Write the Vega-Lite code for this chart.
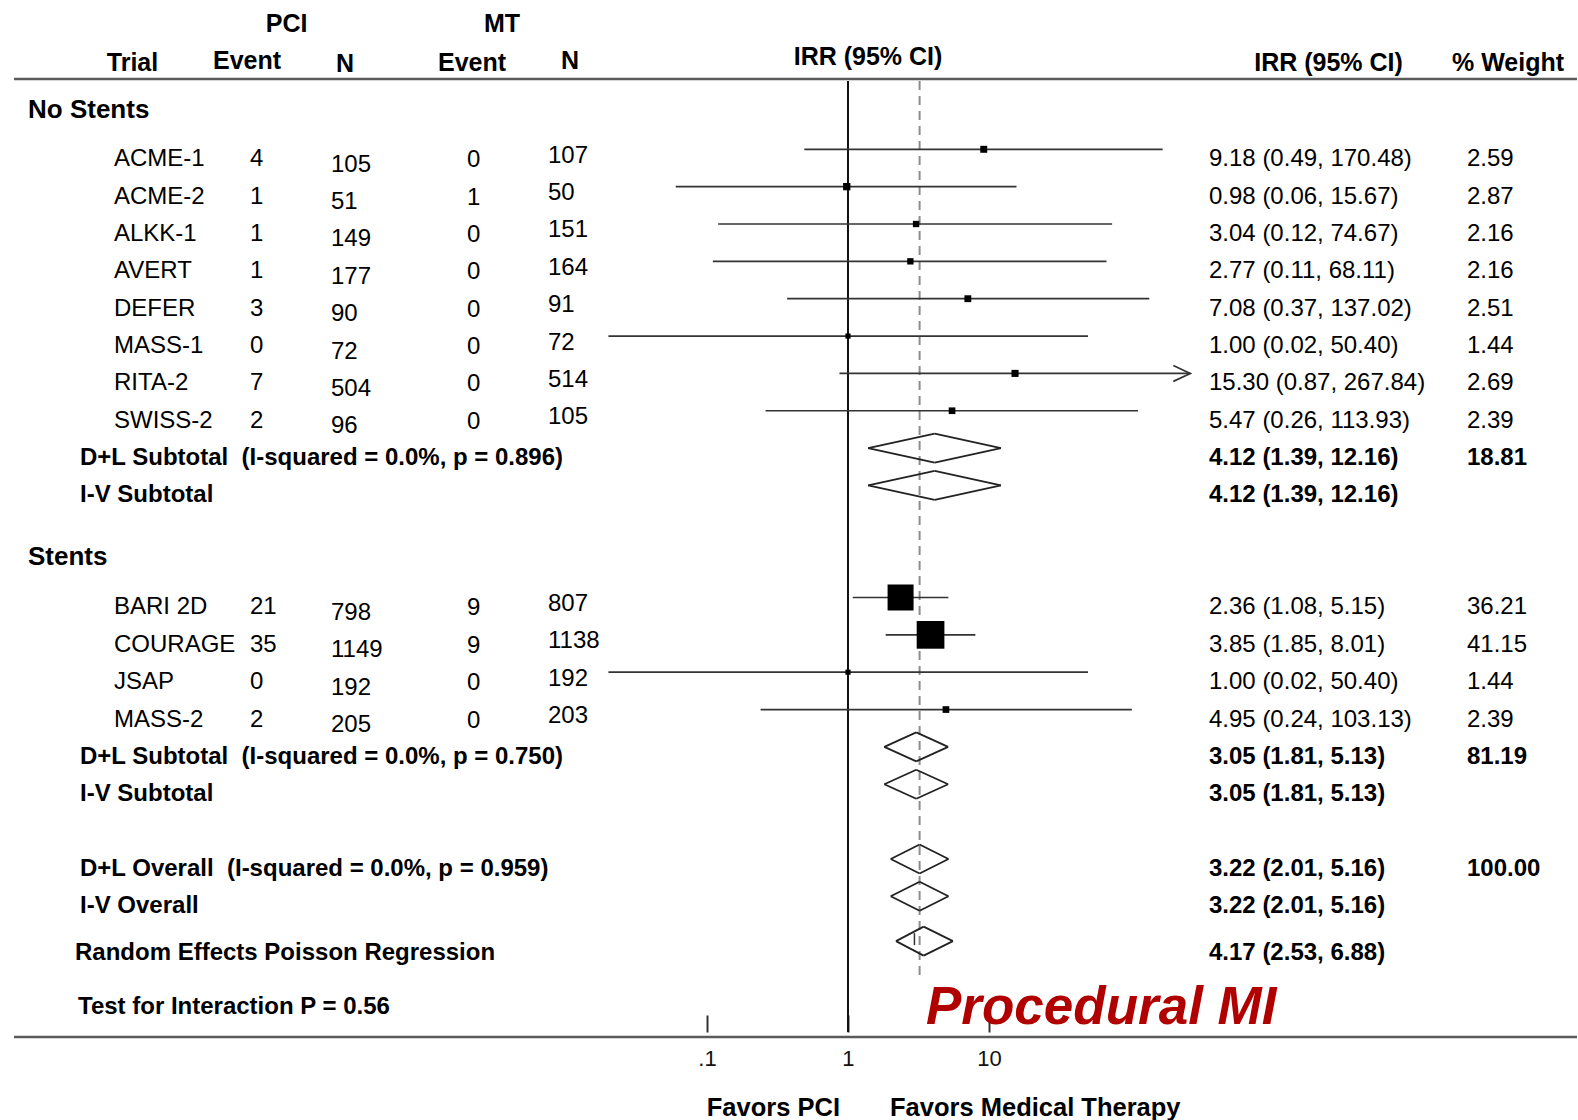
{
  "$schema": "https://vega.github.io/schema/vega-lite/v6.json",
  "padding": {"left": 12, "top": 0, "right": 0, "bottom": 0},
  "autosize": {"type": "pad"},
  "bounds": "flush",
  "spacing": 0,
  "background": "white",
  "config": {
    "view": {"stroke": null},
    "text": {"font": "Liberation Sans", "color": "black", "fontSize": 24},
    "axis": {"labelFont": "Liberation Sans"}
  },
  "datasets": {
    "frame": [{"part": "frame"}],
    "headers": [
      {"col": "pci", "text": "PCI", "row": -2.366},
      {"col": "mt", "text": "MT", "row": -2.366},
      {"col": "trial", "text": "Trial", "row": -1.308},
      {"col": "pe", "text": "Event", "row": -1.353},
      {"col": "pn", "text": "N", "row": -1.287},
      {"col": "me", "text": "Event", "row": -1.308},
      {"col": "mn", "text": "N", "row": -1.375},
      {"col": "forest", "text": "IRR (95% CI)", "row": -1.463},
      {"col": "irr", "text": "IRR (95% CI)", "row": -1.308},
      {"col": "wt", "text": "% Weight", "row": -1.31},
      {"col": "favpci", "text": "Favors PCI", "row": 26.68},
      {"col": "favmt", "text": "Favors Medical Therapy", "row": 26.68},
      {"col": "title", "text": "Procedural MI", "row": 24.427}
    ],
    "rows": [
      {"kind": "section", "row": -0.328, "label": "No Stents"},
      {"kind": "trial", "row": 1, "label": "ACME-1", "pe": 4, "pn": 105, "me": 0, "mn": 107, "est": 9.18, "lo": 0.49, "hi": 170.48, "irr": "9.18 (0.49, 170.48)", "wt": 2.59},
      {"kind": "trial", "row": 2, "label": "ACME-2", "pe": 1, "pn": 51, "me": 1, "mn": 50, "est": 0.98, "lo": 0.06, "hi": 15.67, "irr": "0.98 (0.06, 15.67)", "wt": 2.87},
      {"kind": "trial", "row": 3, "label": "ALKK-1", "pe": 1, "pn": 149, "me": 0, "mn": 151, "est": 3.04, "lo": 0.12, "hi": 74.67, "irr": "3.04 (0.12, 74.67)", "wt": 2.16},
      {"kind": "trial", "row": 4, "label": "AVERT", "pe": 1, "pn": 177, "me": 0, "mn": 164, "est": 2.77, "lo": 0.11, "hi": 68.11, "irr": "2.77 (0.11, 68.11)", "wt": 2.16},
      {"kind": "trial", "row": 5, "label": "DEFER", "pe": 3, "pn": 90, "me": 0, "mn": 91, "est": 7.08, "lo": 0.37, "hi": 137.02, "irr": "7.08 (0.37, 137.02)", "wt": 2.51},
      {"kind": "trial", "row": 6, "label": "MASS-1", "pe": 0, "pn": 72, "me": 0, "mn": 72, "est": 1.0, "lo": 0.02, "hi": 50.4, "irr": "1.00 (0.02, 50.40)", "wt": 1.44},
      {"kind": "trial", "row": 7, "label": "RITA-2", "pe": 7, "pn": 504, "me": 0, "mn": 514, "est": 15.3, "lo": 0.87, "hi": 267.84, "irr": "15.30 (0.87, 267.84)", "wt": 2.69},
      {"kind": "trial", "row": 8, "label": "SWISS-2", "pe": 2, "pn": 96, "me": 0, "mn": 105, "est": 5.47, "lo": 0.26, "hi": 113.93, "irr": "5.47 (0.26, 113.93)", "wt": 2.39},
      {"kind": "summary", "row": 9, "label": "D+L Subtotal\u00a0\u00a0(I-squared = 0.0%, p = 0.896)", "est": 4.12, "lo": 1.39, "hi": 12.16, "irr": "4.12 (1.39, 12.16)", "wt": 18.81},
      {"kind": "summary", "row": 10, "label": "I-V Subtotal", "est": 4.12, "lo": 1.39, "hi": 12.16, "irr": "4.12 (1.39, 12.16)"},
      {"kind": "section", "row": 11.64, "label": "Stents"},
      {"kind": "trial", "row": 13, "label": "BARI 2D", "pe": 21, "pn": 798, "me": 9, "mn": 807, "est": 2.36, "lo": 1.08, "hi": 5.15, "irr": "2.36 (1.08, 5.15)", "wt": 36.21},
      {"kind": "trial", "row": 14, "label": "COURAGE", "pe": 35, "pn": 1149, "me": 9, "mn": 1138, "est": 3.85, "lo": 1.85, "hi": 8.01, "irr": "3.85 (1.85, 8.01)", "wt": 41.15},
      {"kind": "trial", "row": 15, "label": "JSAP", "pe": 0, "pn": 192, "me": 0, "mn": 192, "est": 1.0, "lo": 0.02, "hi": 50.4, "irr": "1.00 (0.02, 50.40)", "wt": 1.44},
      {"kind": "trial", "row": 16, "label": "MASS-2", "pe": 2, "pn": 205, "me": 0, "mn": 203, "est": 4.95, "lo": 0.24, "hi": 103.13, "irr": "4.95 (0.24, 103.13)", "wt": 2.39},
      {"kind": "summary", "row": 17, "label": "D+L Subtotal\u00a0\u00a0(I-squared = 0.0%, p = 0.750)", "est": 3.05, "lo": 1.81, "hi": 5.13, "irr": "3.05 (1.81, 5.13)", "wt": 81.19},
      {"kind": "summary", "row": 18, "label": "I-V Subtotal", "est": 3.05, "lo": 1.81, "hi": 5.13, "irr": "3.05 (1.81, 5.13)"},
      {"kind": "summary", "row": 20, "label": "D+L Overall\u00a0\u00a0(I-squared = 0.0%, p = 0.959)", "est": 3.22, "lo": 2.01, "hi": 5.16, "irr": "3.22 (2.01, 5.16)", "wt": 100},
      {"kind": "summary", "row": 21, "label": "I-V Overall", "est": 3.22, "lo": 2.01, "hi": 5.16, "irr": "3.22 (2.01, 5.16)"},
      {"kind": "random", "row": 22.2, "label": "Random Effects Poisson Regression", "est": 3.44, "lo": 2.19, "hi": 5.55, "tick": 2.96, "irr": "4.17 (2.53, 6.88)"},
      {"kind": "note", "row": 23.7, "label": "Test for Interaction P = 0.56"}
    ]
  },
  "hconcat": [
    {
      "width": 14, "height": 1120,
      "layer": [
        {"data": {"name": "frame"}, "mark": {"type": "rule", "color": "#5a5a5a", "strokeWidth": 2.5}, "encoding": {"y": {"datum": -0.882, "type": "quantitative", "scale": {"domain": [-2.99732, 26.9893], "reverse": true, "nice": false, "zero": false}, "axis": null}}},
        {"data": {"name": "frame"}, "mark": {"type": "rule", "color": "#5a5a5a", "strokeWidth": 2.5}, "encoding": {"y": {"datum": 24.767, "type": "quantitative", "scale": {"domain": [-2.99732, 26.9893], "reverse": true, "nice": false, "zero": false}, "axis": null}}}
      ]
    },
    {
      "width": 52, "height": 1120,
      "layer": [
        {"data": {"name": "frame"}, "mark": {"type": "rule", "color": "#5a5a5a", "strokeWidth": 2.5}, "encoding": {"y": {"datum": -0.882, "type": "quantitative", "scale": {"domain": [-2.99732, 26.9893], "reverse": true, "nice": false, "zero": false}, "axis": null}}},
        {"data": {"name": "frame"}, "mark": {"type": "rule", "color": "#5a5a5a", "strokeWidth": 2.5}, "encoding": {"y": {"datum": 24.767, "type": "quantitative", "scale": {"domain": [-2.99732, 26.9893], "reverse": true, "nice": false, "zero": false}, "axis": null}}},
        {"data": {"name": "rows"}, "transform": [{"filter": "datum.kind == 'section'"}], "mark": {"type": "text", "align": "left", "baseline": "middle", "dy": 10, "fontSize": 26, "fontWeight": "bold"}, "encoding": {"x": {"value": 0}, "y": {"field": "row", "type": "quantitative", "scale": {"domain": [-2.99732, 26.9893], "reverse": true, "nice": false, "zero": false}, "axis": null}, "text": {"field": "label"}}}
      ]
    },
    {
      "width": 34, "height": 1120,
      "layer": [
        {"data": {"name": "frame"}, "mark": {"type": "rule", "color": "#5a5a5a", "strokeWidth": 2.5}, "encoding": {"y": {"datum": -0.882, "type": "quantitative", "scale": {"domain": [-2.99732, 26.9893], "reverse": true, "nice": false, "zero": false}, "axis": null}}},
        {"data": {"name": "frame"}, "mark": {"type": "rule", "color": "#5a5a5a", "strokeWidth": 2.5}, "encoding": {"y": {"datum": 24.767, "type": "quantitative", "scale": {"domain": [-2.99732, 26.9893], "reverse": true, "nice": false, "zero": false}, "axis": null}}},
        {"data": {"name": "rows"}, "transform": [{"filter": "datum.kind == 'summary'"}], "mark": {"type": "text", "align": "left", "baseline": "middle", "dy": 10, "fontSize": 24, "fontWeight": "bold"}, "encoding": {"x": {"value": 0}, "y": {"field": "row", "type": "quantitative", "scale": {"domain": [-2.99732, 26.9893], "reverse": true, "nice": false, "zero": false}, "axis": null}, "text": {"field": "label"}}},
        {"data": {"name": "rows"}, "transform": [{"filter": "datum.kind == 'note'"}], "mark": {"type": "text", "align": "left", "baseline": "middle", "dx": -2, "dy": 10, "fontSize": 24, "fontWeight": "bold"}, "encoding": {"x": {"value": 0}, "y": {"field": "row", "type": "quantitative", "scale": {"domain": [-2.99732, 26.9893], "reverse": true, "nice": false, "zero": false}, "axis": null}, "text": {"field": "label"}}},
        {"data": {"name": "rows"}, "transform": [{"filter": "datum.kind == 'random'"}], "mark": {"type": "text", "align": "left", "baseline": "middle", "dx": -5, "dy": 11.5, "fontSize": 24, "fontWeight": "bold"}, "encoding": {"x": {"value": 0}, "y": {"field": "row", "type": "quantitative", "scale": {"domain": [-2.99732, 26.9893], "reverse": true, "nice": false, "zero": false}, "axis": null}, "text": {"field": "label"}}}
      ]
    },
    {
      "width": 136, "height": 1120,
      "layer": [
        {"data": {"name": "frame"}, "mark": {"type": "rule", "color": "#5a5a5a", "strokeWidth": 2.5}, "encoding": {"y": {"datum": -0.882, "type": "quantitative", "scale": {"domain": [-2.99732, 26.9893], "reverse": true, "nice": false, "zero": false}, "axis": null}}},
        {"data": {"name": "frame"}, "mark": {"type": "rule", "color": "#5a5a5a", "strokeWidth": 2.5}, "encoding": {"y": {"datum": 24.767, "type": "quantitative", "scale": {"domain": [-2.99732, 26.9893], "reverse": true, "nice": false, "zero": false}, "axis": null}}},
        {"data": {"name": "rows"}, "transform": [{"filter": "datum.kind == 'trial'"}], "mark": {"type": "text", "align": "left", "baseline": "middle", "dy": 10, "fontSize": 24}, "encoding": {"x": {"value": 0}, "y": {"field": "row", "type": "quantitative", "scale": {"domain": [-2.99732, 26.9893], "reverse": true, "nice": false, "zero": false}, "axis": null}, "text": {"field": "label"}}},
        {"data": {"name": "headers"}, "transform": [{"filter": "datum.col == 'trial'"}], "mark": {"type": "text", "align": "center", "baseline": "middle", "dx": 18.5, "fontSize": 25, "fontWeight": "bold"}, "encoding": {"x": {"value": 0}, "y": {"field": "row", "type": "quantitative", "scale": {"domain": [-2.99732, 26.9893], "reverse": true, "nice": false, "zero": false}, "axis": null}, "text": {"field": "text"}}}
      ]
    },
    {
      "width": 81, "height": 1120,
      "layer": [
        {"data": {"name": "frame"}, "mark": {"type": "rule", "color": "#5a5a5a", "strokeWidth": 2.5}, "encoding": {"y": {"datum": -0.882, "type": "quantitative", "scale": {"domain": [-2.99732, 26.9893], "reverse": true, "nice": false, "zero": false}, "axis": null}}},
        {"data": {"name": "frame"}, "mark": {"type": "rule", "color": "#5a5a5a", "strokeWidth": 2.5}, "encoding": {"y": {"datum": 24.767, "type": "quantitative", "scale": {"domain": [-2.99732, 26.9893], "reverse": true, "nice": false, "zero": false}, "axis": null}}},
        {"data": {"name": "rows"}, "transform": [{"filter": "datum.kind == 'trial'"}], "mark": {"type": "text", "align": "left", "baseline": "middle", "dy": 10, "fontSize": 24}, "encoding": {"x": {"value": 0}, "y": {"field": "row", "type": "quantitative", "scale": {"domain": [-2.99732, 26.9893], "reverse": true, "nice": false, "zero": false}, "axis": null}, "text": {"field": "pe", "type": "quantitative", "format": "d"}}},
        {"data": {"name": "headers"}, "transform": [{"filter": "datum.col == 'pe'"}], "mark": {"type": "text", "align": "center", "baseline": "middle", "dx": -3, "fontSize": 25, "fontWeight": "bold"}, "encoding": {"x": {"value": 0}, "y": {"field": "row", "type": "quantitative", "scale": {"domain": [-2.99732, 26.9893], "reverse": true, "nice": false, "zero": false}, "axis": null}, "text": {"field": "text"}}},
        {"data": {"name": "headers"}, "transform": [{"filter": "datum.col == 'pci'"}], "mark": {"type": "text", "align": "center", "baseline": "middle", "dx": 36.7, "fontSize": 25, "fontWeight": "bold"}, "encoding": {"x": {"value": 0}, "y": {"field": "row", "type": "quantitative", "scale": {"domain": [-2.99732, 26.9893], "reverse": true, "nice": false, "zero": false}, "axis": null}, "text": {"field": "text"}}}
      ]
    },
    {
      "width": 136, "height": 1120,
      "layer": [
        {"data": {"name": "frame"}, "mark": {"type": "rule", "color": "#5a5a5a", "strokeWidth": 2.5}, "encoding": {"y": {"datum": -0.882, "type": "quantitative", "scale": {"domain": [-2.99732, 26.9893], "reverse": true, "nice": false, "zero": false}, "axis": null}}},
        {"data": {"name": "frame"}, "mark": {"type": "rule", "color": "#5a5a5a", "strokeWidth": 2.5}, "encoding": {"y": {"datum": 24.767, "type": "quantitative", "scale": {"domain": [-2.99732, 26.9893], "reverse": true, "nice": false, "zero": false}, "axis": null}}},
        {"data": {"name": "rows"}, "transform": [{"filter": "datum.kind == 'trial'"}], "mark": {"type": "text", "align": "left", "baseline": "middle", "dy": 15.5, "fontSize": 24}, "encoding": {"x": {"value": 0}, "y": {"field": "row", "type": "quantitative", "scale": {"domain": [-2.99732, 26.9893], "reverse": true, "nice": false, "zero": false}, "axis": null}, "text": {"field": "pn", "type": "quantitative", "format": "d"}}},
        {"data": {"name": "headers"}, "transform": [{"filter": "datum.col == 'pn'"}], "mark": {"type": "text", "align": "center", "baseline": "middle", "dx": 14, "fontSize": 25, "fontWeight": "bold"}, "encoding": {"x": {"value": 0}, "y": {"field": "row", "type": "quantitative", "scale": {"domain": [-2.99732, 26.9893], "reverse": true, "nice": false, "zero": false}, "axis": null}, "text": {"field": "text"}}}
      ]
    },
    {
      "width": 81, "height": 1120,
      "layer": [
        {"data": {"name": "frame"}, "mark": {"type": "rule", "color": "#5a5a5a", "strokeWidth": 2.5}, "encoding": {"y": {"datum": -0.882, "type": "quantitative", "scale": {"domain": [-2.99732, 26.9893], "reverse": true, "nice": false, "zero": false}, "axis": null}}},
        {"data": {"name": "frame"}, "mark": {"type": "rule", "color": "#5a5a5a", "strokeWidth": 2.5}, "encoding": {"y": {"datum": 24.767, "type": "quantitative", "scale": {"domain": [-2.99732, 26.9893], "reverse": true, "nice": false, "zero": false}, "axis": null}}},
        {"data": {"name": "rows"}, "transform": [{"filter": "datum.kind == 'trial'"}], "mark": {"type": "text", "align": "left", "baseline": "middle", "dy": 11, "fontSize": 24}, "encoding": {"x": {"value": 0}, "y": {"field": "row", "type": "quantitative", "scale": {"domain": [-2.99732, 26.9893], "reverse": true, "nice": false, "zero": false}, "axis": null}, "text": {"field": "me", "type": "quantitative", "format": "d"}}},
        {"data": {"name": "headers"}, "transform": [{"filter": "datum.col == 'me'"}], "mark": {"type": "text", "align": "center", "baseline": "middle", "dx": 5, "fontSize": 25, "fontWeight": "bold"}, "encoding": {"x": {"value": 0}, "y": {"field": "row", "type": "quantitative", "scale": {"domain": [-2.99732, 26.9893], "reverse": true, "nice": false, "zero": false}, "axis": null}, "text": {"field": "text"}}},
        {"data": {"name": "headers"}, "transform": [{"filter": "datum.col == 'mt'"}], "mark": {"type": "text", "align": "center", "baseline": "middle", "dx": 35, "fontSize": 25, "fontWeight": "bold"}, "encoding": {"x": {"value": 0}, "y": {"field": "row", "type": "quantitative", "scale": {"domain": [-2.99732, 26.9893], "reverse": true, "nice": false, "zero": false}, "axis": null}, "text": {"field": "text"}}}
      ]
    },
    {
      "width": 54, "height": 1120,
      "layer": [
        {"data": {"name": "frame"}, "mark": {"type": "rule", "color": "#5a5a5a", "strokeWidth": 2.5}, "encoding": {"y": {"datum": -0.882, "type": "quantitative", "scale": {"domain": [-2.99732, 26.9893], "reverse": true, "nice": false, "zero": false}, "axis": null}}},
        {"data": {"name": "frame"}, "mark": {"type": "rule", "color": "#5a5a5a", "strokeWidth": 2.5}, "encoding": {"y": {"datum": 24.767, "type": "quantitative", "scale": {"domain": [-2.99732, 26.9893], "reverse": true, "nice": false, "zero": false}, "axis": null}}},
        {"data": {"name": "rows"}, "transform": [{"filter": "datum.kind == 'trial'"}], "mark": {"type": "text", "align": "left", "baseline": "middle", "dy": 6.5, "fontSize": 24}, "encoding": {"x": {"value": 0}, "y": {"field": "row", "type": "quantitative", "scale": {"domain": [-2.99732, 26.9893], "reverse": true, "nice": false, "zero": false}, "axis": null}, "text": {"field": "mn", "type": "quantitative", "format": "d"}}},
        {"data": {"name": "headers"}, "transform": [{"filter": "datum.col == 'mn'"}], "mark": {"type": "text", "align": "center", "baseline": "middle", "dx": 22, "fontSize": 25, "fontWeight": "bold"}, "encoding": {"x": {"value": 0}, "y": {"field": "row", "type": "quantitative", "scale": {"domain": [-2.99732, 26.9893], "reverse": true, "nice": false, "zero": false}, "axis": null}, "text": {"field": "text"}}}
      ]
    },
    {
      "width": 607, "height": 1120,
      "layer": [
        {"data": {"name": "frame"}, "mark": {"type": "rule", "color": "#5a5a5a", "strokeWidth": 2.5}, "encoding": {"y": {"datum": -0.882, "type": "quantitative", "scale": {"domain": [-2.99732, 26.9893], "reverse": true, "nice": false, "zero": false}, "axis": null}}},
        {"data": {"name": "frame"}, "mark": {"type": "rule", "color": "#5a5a5a", "strokeWidth": 2.5}, "encoding": {"y": {"datum": 24.767, "type": "quantitative", "scale": {"domain": [-2.99732, 26.9893], "reverse": true, "nice": false, "zero": false}, "axis": null}}},
        {"data": {"name": "frame"}, "mark": {"type": "rule", "color": "#111111", "strokeWidth": 2},
         "encoding": {
           "x": {"datum": 1, "type": "quantitative", "scale": {"type": "log", "domain": [0.018003, 363.4], "nice": false},
                 "axis": {"orient": "bottom", "values": [0.1, 1, 10], "labelExpr": "datum.value < 0.5 ? '.1' : format(datum.value, 'd')", "domain": false, "grid": false, "ticks": true, "tickSize": 17, "tickWidth": 2, "tickColor": "#333333", "offset": -105, "labelPadding": 16, "labelFontSize": 22, "labelColor": "#111111", "labelFlush": false, "labelOverlap": false, "title": null}},
           "y": {"datum": -0.829, "type": "quantitative", "scale": {"domain": [-2.99732, 26.9893], "reverse": true, "nice": false, "zero": false}, "axis": null},
           "y2": {"datum": 24.633}
         }},
        {"data": {"name": "rows"}, "transform": [{"filter": "datum.row == 20"}], "mark": {"type": "rule", "color": "#8c8c8c", "strokeWidth": 2, "strokeDash": [9, 6]},
         "encoding": {
           "x": {"field": "est", "type": "quantitative", "scale": {"type": "log", "domain": [0.018003, 363.4], "nice": false}},
           "y": {"datum": -0.829, "type": "quantitative", "scale": {"domain": [-2.99732, 26.9893], "reverse": true, "nice": false, "zero": false}, "axis": null},
           "y2": {"datum": 23.107}
         }},
        {"data": {"name": "rows"}, "transform": [{"filter": "datum.kind == 'trial'"}], "mark": {"type": "rule", "color": "#333333", "strokeWidth": 1.7},
         "encoding": {
           "x": {"field": "lo", "type": "quantitative", "scale": {"type": "log", "domain": [0.018003, 363.4], "nice": false}},
           "x2": {"field": "hi"},
           "y": {"field": "row", "type": "quantitative", "scale": {"domain": [-2.99732, 26.9893], "reverse": true, "nice": false, "zero": false}, "axis": null}
         }},
        {"data": {"name": "rows"}, "transform": [{"filter": "datum.kind == 'trial'"}], "mark": {"type": "point", "shape": "square", "filled": true, "color": "black", "opacity": 1, "strokeWidth": 0},
         "encoding": {
           "x": {"field": "est", "type": "quantitative", "scale": {"type": "log", "domain": [0.018003, 363.4], "nice": false}},
           "y": {"field": "row", "type": "quantitative", "scale": {"domain": [-2.99732, 26.9893], "reverse": true, "nice": false, "zero": false}, "axis": null},
           "size": {"field": "wt", "type": "quantitative", "scale": {"type": "linear", "domain": [0, 41.15], "range": [0, 768]}, "legend": null}
         }},
        {"data": {"name": "rows"}, "transform": [{"filter": "datum.kind == 'trial' && datum.hi > 200"}], "mark": {"type": "point", "shape": "M-1,-0.47L0,0L-1,0.47", "filled": false, "color": "#333333", "opacity": 1, "strokeWidth": 1.7, "size": 1156},
         "encoding": {
           "x": {"field": "hi", "type": "quantitative", "scale": {"type": "log", "domain": [0.018003, 363.4], "nice": false}},
           "y": {"field": "row", "type": "quantitative", "scale": {"domain": [-2.99732, 26.9893], "reverse": true, "nice": false, "zero": false}, "axis": null}
         }},
        {"data": {"name": "rows"}, "transform": [{"filter": "datum.kind != 'trial' && isValid(datum.lo)"}], "mark": {"type": "rule", "color": "#222222", "strokeWidth": 1.8, "y2Offset": -14.5},
         "encoding": {
           "x": {"field": "lo", "type": "quantitative", "scale": {"type": "log", "domain": [0.018003, 363.4], "nice": false}},
           "x2": {"field": "est"},
           "y": {"field": "row", "type": "quantitative", "scale": {"domain": [-2.99732, 26.9893], "reverse": true, "nice": false, "zero": false}, "axis": null},
           "y2": {"field": "row"}
         }},
        {"data": {"name": "rows"}, "transform": [{"filter": "datum.kind != 'trial' && isValid(datum.lo)"}], "mark": {"type": "rule", "color": "#222222", "strokeWidth": 1.8, "y2Offset": 14.5},
         "encoding": {
           "x": {"field": "lo", "type": "quantitative", "scale": {"type": "log", "domain": [0.018003, 363.4], "nice": false}},
           "x2": {"field": "est"},
           "y": {"field": "row", "type": "quantitative", "scale": {"domain": [-2.99732, 26.9893], "reverse": true, "nice": false, "zero": false}, "axis": null},
           "y2": {"field": "row"}
         }},
        {"data": {"name": "rows"}, "transform": [{"filter": "datum.kind != 'trial' && isValid(datum.lo)"}], "mark": {"type": "rule", "color": "#222222", "strokeWidth": 1.8, "yOffset": -14.5},
         "encoding": {
           "x": {"field": "est", "type": "quantitative", "scale": {"type": "log", "domain": [0.018003, 363.4], "nice": false}},
           "x2": {"field": "hi"},
           "y": {"field": "row", "type": "quantitative", "scale": {"domain": [-2.99732, 26.9893], "reverse": true, "nice": false, "zero": false}, "axis": null},
           "y2": {"field": "row"}
         }},
        {"data": {"name": "rows"}, "transform": [{"filter": "datum.kind != 'trial' && isValid(datum.lo)"}], "mark": {"type": "rule", "color": "#222222", "strokeWidth": 1.8, "yOffset": 14.5},
         "encoding": {
           "x": {"field": "est", "type": "quantitative", "scale": {"type": "log", "domain": [0.018003, 363.4], "nice": false}},
           "x2": {"field": "hi"},
           "y": {"field": "row", "type": "quantitative", "scale": {"domain": [-2.99732, 26.9893], "reverse": true, "nice": false, "zero": false}, "axis": null},
           "y2": {"field": "row"}
         }},
        {"data": {"name": "rows"}, "transform": [{"filter": "isValid(datum.tick)"}], "mark": {"type": "rule", "color": "#333333", "strokeWidth": 1.5, "yOffset": -8, "y2Offset": 4},
         "encoding": {
           "x": {"field": "tick", "type": "quantitative", "scale": {"type": "log", "domain": [0.018003, 363.4], "nice": false}},
           "y": {"field": "row", "type": "quantitative", "scale": {"domain": [-2.99732, 26.9893], "reverse": true, "nice": false, "zero": false}, "axis": null},
           "y2": {"field": "row"}
         }},
        {"data": {"name": "headers"}, "transform": [{"filter": "datum.col == 'forest'"}], "mark": {"type": "text", "align": "center", "baseline": "middle", "fontSize": 25, "fontWeight": "bold"},
         "encoding": {
           "x": {"datum": 1.3866, "type": "quantitative", "scale": {"type": "log", "domain": [0.018003, 363.4], "nice": false}},
           "y": {"field": "row", "type": "quantitative", "scale": {"domain": [-2.99732, 26.9893], "reverse": true, "nice": false, "zero": false}, "axis": null},
           "text": {"field": "text"}
         }},
        {"data": {"name": "headers"}, "transform": [{"filter": "datum.col == 'favpci'"}], "mark": {"type": "text", "align": "right", "baseline": "middle", "fontSize": 25.5, "fontWeight": "bold"},
         "encoding": {
           "x": {"datum": 0.8776, "type": "quantitative", "scale": {"type": "log", "domain": [0.018003, 363.4], "nice": false}},
           "y": {"field": "row", "type": "quantitative", "scale": {"domain": [-2.99732, 26.9893], "reverse": true, "nice": false, "zero": false}, "axis": null},
           "text": {"field": "text"}
         }},
        {"data": {"name": "headers"}, "transform": [{"filter": "datum.col == 'favmt'"}], "mark": {"type": "text", "align": "left", "baseline": "middle", "fontSize": 25.5, "fontWeight": "bold"},
         "encoding": {
           "x": {"datum": 1.9862, "type": "quantitative", "scale": {"type": "log", "domain": [0.018003, 363.4], "nice": false}},
           "y": {"field": "row", "type": "quantitative", "scale": {"domain": [-2.99732, 26.9893], "reverse": true, "nice": false, "zero": false}, "axis": null},
           "text": {"field": "text"}
         }},
        {"data": {"name": "headers"}, "transform": [{"filter": "datum.col == 'title'"}], "mark": {"type": "text", "align": "left", "baseline": "alphabetic", "fontSize": 53, "fontWeight": "bold", "fontStyle": "italic", "color": "#b00000"},
         "encoding": {
           "x": {"datum": 3.574, "type": "quantitative", "scale": {"type": "log", "domain": [0.018003, 363.4], "nice": false}},
           "y": {"field": "row", "type": "quantitative", "scale": {"domain": [-2.99732, 26.9893], "reverse": true, "nice": false, "zero": false}, "axis": null},
           "text": {"field": "text"}
         }}
      ]
    },
    {
      "width": 258, "height": 1120,
      "layer": [
        {"data": {"name": "frame"}, "mark": {"type": "rule", "color": "#5a5a5a", "strokeWidth": 2.5}, "encoding": {"y": {"datum": -0.882, "type": "quantitative", "scale": {"domain": [-2.99732, 26.9893], "reverse": true, "nice": false, "zero": false}, "axis": null}}},
        {"data": {"name": "frame"}, "mark": {"type": "rule", "color": "#5a5a5a", "strokeWidth": 2.5}, "encoding": {"y": {"datum": 24.767, "type": "quantitative", "scale": {"domain": [-2.99732, 26.9893], "reverse": true, "nice": false, "zero": false}, "axis": null}}},
        {"data": {"name": "rows"}, "transform": [{"filter": "datum.kind == 'trial'"}], "mark": {"type": "text", "align": "left", "baseline": "middle", "dy": 10, "fontSize": 24}, "encoding": {"x": {"value": 0}, "y": {"field": "row", "type": "quantitative", "scale": {"domain": [-2.99732, 26.9893], "reverse": true, "nice": false, "zero": false}, "axis": null}, "text": {"field": "irr"}}},
        {"data": {"name": "rows"}, "transform": [{"filter": "datum.kind == 'summary'"}], "mark": {"type": "text", "align": "left", "baseline": "middle", "dy": 10, "fontSize": 24, "fontWeight": "bold"}, "encoding": {"x": {"value": 0}, "y": {"field": "row", "type": "quantitative", "scale": {"domain": [-2.99732, 26.9893], "reverse": true, "nice": false, "zero": false}, "axis": null}, "text": {"field": "irr"}}},
        {"data": {"name": "rows"}, "transform": [{"filter": "datum.kind == 'random'"}], "mark": {"type": "text", "align": "left", "baseline": "middle", "dy": 11.5, "fontSize": 24, "fontWeight": "bold"}, "encoding": {"x": {"value": 0}, "y": {"field": "row", "type": "quantitative", "scale": {"domain": [-2.99732, 26.9893], "reverse": true, "nice": false, "zero": false}, "axis": null}, "text": {"field": "irr"}}},
        {"data": {"name": "headers"}, "transform": [{"filter": "datum.col == 'irr'"}], "mark": {"type": "text", "align": "center", "baseline": "middle", "dx": 119.5, "fontSize": 25, "fontWeight": "bold"}, "encoding": {"x": {"value": 0}, "y": {"field": "row", "type": "quantitative", "scale": {"domain": [-2.99732, 26.9893], "reverse": true, "nice": false, "zero": false}, "axis": null}, "text": {"field": "text"}}}
      ]
    },
    {
      "width": 110, "height": 1120,
      "layer": [
        {"data": {"name": "frame"}, "mark": {"type": "rule", "color": "#5a5a5a", "strokeWidth": 2.5}, "encoding": {"y": {"datum": -0.882, "type": "quantitative", "scale": {"domain": [-2.99732, 26.9893], "reverse": true, "nice": false, "zero": false}, "axis": null}}},
        {"data": {"name": "frame"}, "mark": {"type": "rule", "color": "#5a5a5a", "strokeWidth": 2.5}, "encoding": {"y": {"datum": 24.767, "type": "quantitative", "scale": {"domain": [-2.99732, 26.9893], "reverse": true, "nice": false, "zero": false}, "axis": null}}},
        {"data": {"name": "rows"}, "transform": [{"filter": "datum.kind == 'trial'"}], "mark": {"type": "text", "align": "left", "baseline": "middle", "dy": 10, "fontSize": 24}, "encoding": {"x": {"value": 0}, "y": {"field": "row", "type": "quantitative", "scale": {"domain": [-2.99732, 26.9893], "reverse": true, "nice": false, "zero": false}, "axis": null}, "text": {"field": "wt", "type": "quantitative", "format": ".2f"}}},
        {"data": {"name": "rows"}, "transform": [{"filter": "datum.kind == 'summary' && isValid(datum.wt)"}], "mark": {"type": "text", "align": "left", "baseline": "middle", "dy": 10, "fontSize": 24, "fontWeight": "bold"}, "encoding": {"x": {"value": 0}, "y": {"field": "row", "type": "quantitative", "scale": {"domain": [-2.99732, 26.9893], "reverse": true, "nice": false, "zero": false}, "axis": null}, "text": {"field": "wt", "type": "quantitative", "format": ".2f"}}},
        {"data": {"name": "headers"}, "transform": [{"filter": "datum.col == 'wt'"}], "mark": {"type": "text", "align": "center", "baseline": "middle", "dx": 41, "fontSize": 25, "fontWeight": "bold"}, "encoding": {"x": {"value": 0}, "y": {"field": "row", "type": "quantitative", "scale": {"domain": [-2.99732, 26.9893], "reverse": true, "nice": false, "zero": false}, "axis": null}, "text": {"field": "text"}}}
      ]
    }
  ]
}
